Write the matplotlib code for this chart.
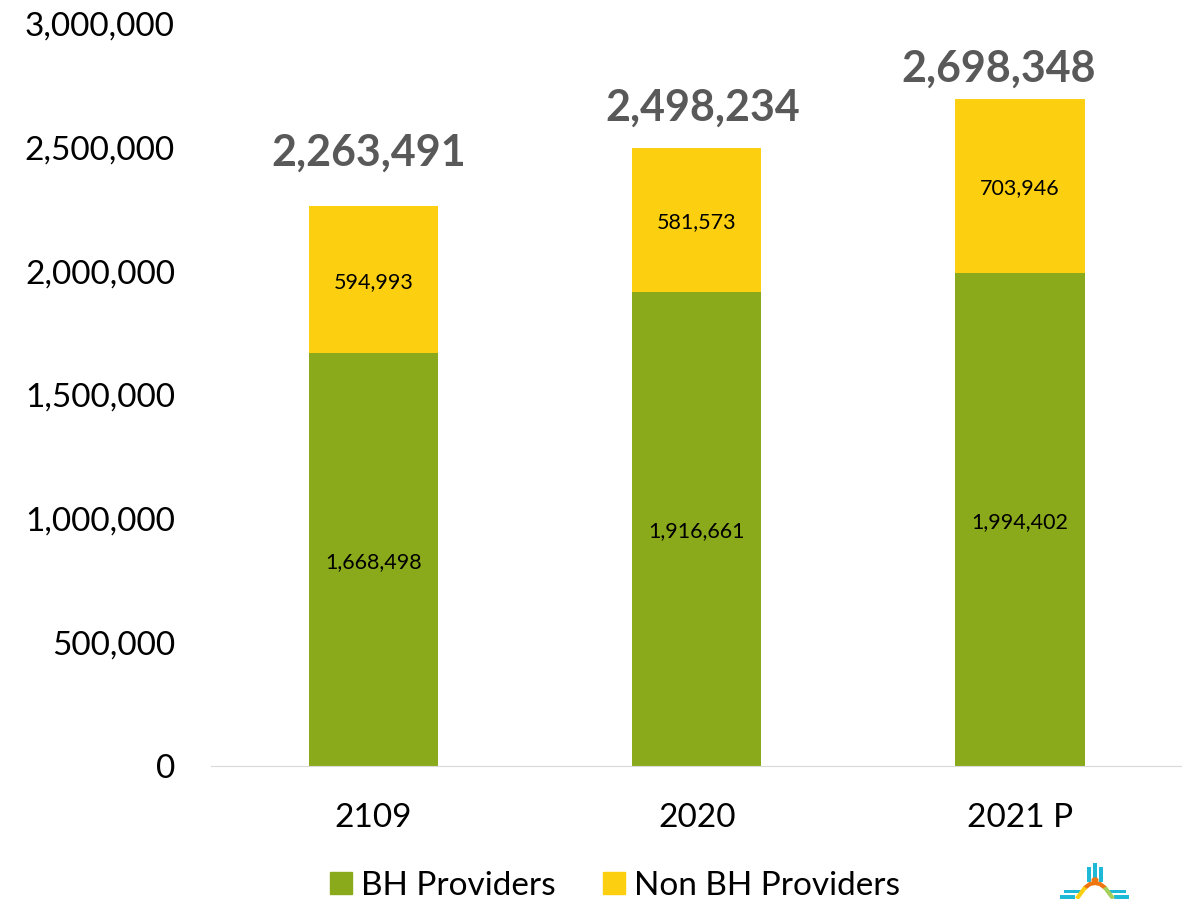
import matplotlib
matplotlib.use("Agg")
import matplotlib.pyplot as plt
from matplotlib.patches import Patch, Rectangle, Circle
from matplotlib.lines import Line2D

plt.rcParams["font.family"] = ["Lato", "DejaVu Sans"]

years = ["2109", "2020", "2021 P"]
bh = [1668498, 1916661, 1994402]
non_bh = [594993, 581573, 703946]
totals = [2263491, 2498234, 2698348]
y_ticks = [0, 500000, 1000000, 1500000, 2000000, 2500000, 3000000]

# the total labels were placed by hand in the original
total_dx = [-0.015, 0.018, -0.065]
total_dy = [218000, 162000, 121000]

green = "#8aaa1c"
yellow = "#fcd011"

W, H = 1191, 899

fig = plt.figure(figsize=(W / 100, H / 100), dpi=100)
ax = fig.add_axes([211 / W, 1 - 766 / H, (1181 - 211) / W, (766 - 24) / H])

x = range(len(years))
ax.bar(x, bh, width=0.4, color=green)
ax.bar(x, non_bh, width=0.4, bottom=bh, color=yellow)

for i in x:
    ax.text(i, bh[i] / 2 - 10000, f"{bh[i]:,}", ha="center", va="center", fontsize=15.5, color="black")
    ax.text(i, bh[i] + non_bh[i] / 2 - 10000, f"{non_bh[i]:,}", ha="center", va="center", fontsize=15.5, color="black")
    ax.text(i + total_dx[i], totals[i] + total_dy[i], f"{totals[i]:,}", ha="center", va="center",
            fontsize=31, fontweight="bold", color="#595959")

ax.set_xlim(-0.502, 2.498)
ax.set_ylim(0, 3000000)
ax.set_xticks(list(x))
ax.set_xticklabels(years, fontsize=24)
ax.set_yticks(y_ticks)
ax.set_yticklabels([f"{v:,}" for v in y_ticks], fontsize=24)
ax.tick_params(length=0)
ax.tick_params(axis="x", pad=26.5)
ax.tick_params(axis="y", pad=26)

for s in ["top", "right", "left"]:
    ax.spines[s].set_visible(False)
ax.spines["bottom"].set_color("#d9d9d9")

handles = [Patch(color=green, label="BH Providers"), Patch(color=yellow, label="Non BH Providers")]
fig.legend(handles=handles, loc="center", bbox_to_anchor=(615 / W, 1 - 886 / H), ncol=2,
           frameon=False, fontsize=24, handlelength=0.65, handleheight=0.65,
           handletextpad=0.27, columnspacing=1.45)


# small logo, bottom right corner (pixel coordinates)
def px_rect(x0, y0, x1, y1, color):
    fig.add_artist(Rectangle((x0 / W, 1 - y1 / H), (x1 - x0) / W, (y1 - y0) / H,
                             transform=fig.transFigure, color=color, lw=0))


def px_line(xs, ys, color):
    fig.add_artist(Line2D([v / W for v in xs], [1 - v / H for v in ys], color=color, lw=3,
                          transform=fig.transFigure))


cyan = "#1fb9d8"
px_rect(1087, 867, 1091, 882, cyan)
px_rect(1093, 863, 1097, 880, cyan)
px_rect(1099, 867, 1103, 882, cyan)
px_rect(1064, 890, 1081, 893, cyan)
px_rect(1060, 895, 1075, 899, cyan)
px_rect(1108, 890, 1126, 893, cyan)
px_rect(1114, 895, 1129, 899, cyan)
px_line([1086, 1090, 1095, 1100, 1104], [887, 884, 883, 884, 887], "#f0750f")
fig.add_artist(Circle((1095 / W, 1 - 880 / H), 0.003, transform=fig.transFigure, color="#f0750f", lw=0))
px_line([1078, 1081, 1084], [897, 893, 889], "#fcd011")
px_line([1106, 1109, 1112], [889, 893, 897], "#a6cf5a")

fig.savefig("out.png", dpi=100)
